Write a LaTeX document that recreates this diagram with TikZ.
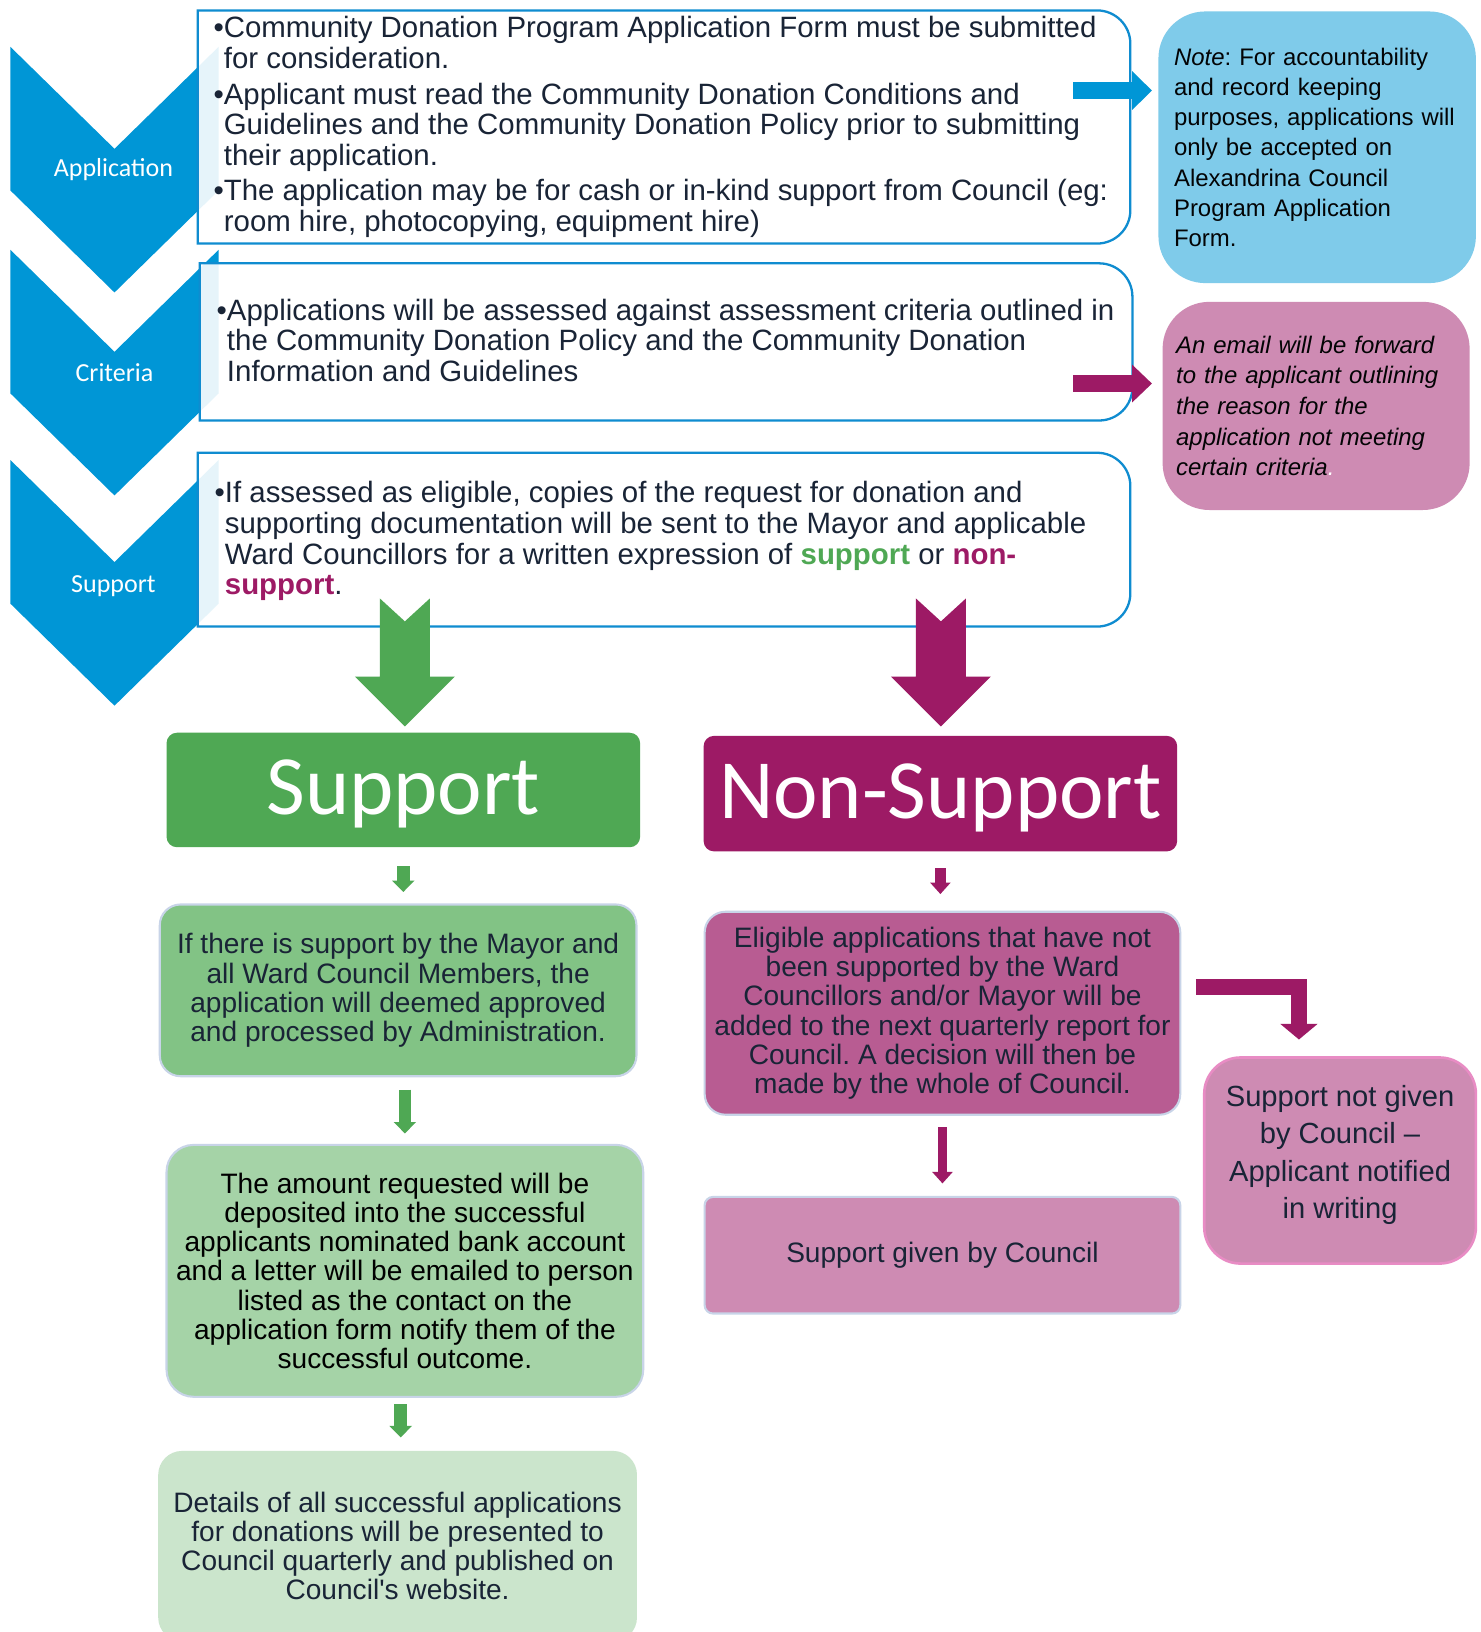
\documentclass[tikz,border=0pt]{standalone}
\usepackage{fontspec}
\setmainfont{Liberation Sans}
\newfontfamily\calfont{Carlito}
\usetikzlibrary{arrows.meta}
\definecolor{cblue}{RGB}{0,150,214}
\definecolor{cbord}{RGB}{15,140,208}
\definecolor{cnavy}{RGB}{25,36,54}
\definecolor{cgreen}{RGB}{79,168,84}
\definecolor{cmag}{RGB}{157,26,101}
\definecolor{cgone}{RGB}{130,195,133}
\definecolor{cgtwo}{RGB}{165,211,167}
\definecolor{cgthree}{RGB}{203,229,204}
\definecolor{cmone}{RGB}{184,92,146}
\definecolor{cpink}{RGB}{206,139,179}
\definecolor{cnote}{RGB}{127,203,234}
\definecolor{cedge}{RGB}{200,212,232}
\definecolor{cpinkedge}{RGB}{232,140,196}
\newcommand\tbox[4]{\filldraw[fill=white,fill opacity=0.9,draw=cbord,line width=2.2pt]
  (#1,#2) -- ({#3-32},#2) arc[start angle=-90,end angle=0,radius=32]
  -- (#3,{#4-32}) arc[start angle=0,end angle=90,radius=32] -- (#1,#4) -- cycle;}
\newcommand\chevshape[1]{\fill[cblue] (10,#1) -- (110,{#1+98}) -- (210,#1) -- (210,{#1+138})
  -- (110,{#1+236}) -- (10,{#1+138}) -- cycle;}
\newcommand\bl{\phantom{\textbullet}}
\newcommand\sq{{\addfontfeatures{Ligatures=TeXOff}'}}
\frenchspacing
\begin{document}
\begin{tikzpicture}[x=1pt,y={(0pt,-1pt)},
  txt/.style={inner sep=0pt,align=left,text=cnavy,font=\fontsize{28.25}{29.5}\selectfont},
  chevlabel/.style={text=white,font=\calfont\fontsize{25}{25}\selectfont,inner sep=0pt},
  hdr/.style={rounded corners=10pt,text=white,font=\calfont\fontsize{81}{81}\selectfont,inner sep=0pt,
    minimum width=455pt,text height=64pt,text depth=16pt},
  cbox/.style={draw=cedge,line width=2pt,rounded corners=20pt,inner sep=0pt,align=center,text=cnavy,
    font=\fontsize{27}{28}\selectfont,minimum width=458pt},
  garr/.style={draw=cgreen,line width=12pt,-{Triangle[width=21pt,length=11pt]}},
  marr/.style={draw=cmag,line width=11pt,-{Triangle[width=19pt,length=11pt]}},
]
\useasboundingbox (0,0) rectangle (1422,1568);
\fill[white] (0,0) rectangle (1422,1568);
% chevrons
\chevshape{45}
\chevshape{240}
\chevshape{442}
% text boxes
\tbox{190}{10}{1086}{234}
\tbox{192}{253}{1088}{404}
\tbox{190}{435}{1086}{602}
\node[chevlabel] (lapp) at (109,163) {Application};
\node[chevlabel] (lcrit) at (110,358) {Criteria};
\node[chevlabel] (lsup) at (109,563) {Support};
\node[txt,anchor=base west] (t1) at (205,222.5) {\textbullet Community Donation Program Application Form must be submitted\\
\bl for consideration.\\[5pt]
\textbullet Applicant must read the Community Donation Conditions and\\
\bl Guidelines and the Community Donation Policy prior to submitting\\
\bl their application.\\[4.5pt]
\textbullet The application may be for cash or in-kind support from Council (eg:\\
\bl room hire, photocopying, equipment hire)};
\node[txt,anchor=base west] (t2) at (208,366.5) {\textbullet Applications will be assessed against assessment criteria outlined in\\
\bl the Community Donation Policy and the Community Donation\\
\bl Information and Guidelines};
\node[txt,anchor=base west] (t3) at (206,571.5) {\textbullet If assessed as eligible, copies of the request for donation and\\
\bl supporting documentation will be sent to the Mayor and applicable\\
\bl Ward Councillors for a written expression of \textcolor{cgreen}{\bfseries support} or \textcolor{cmag}{\bfseries non-}\\
\bl \textcolor{cmag}{\bfseries support}.};
% right notes
\node[fill=cnote,rounded corners=45pt,minimum width=305pt,minimum height=261pt,text width=275pt,
  inner xsep=15pt,inner ysep=0pt,align=left,text=black!90!cnavy,font=\fontsize{23}{29}\selectfont]
  (note) at (1265.5,141.5) {\textit{Note}: For accountability\\ and record keeping\\ purposes, applications will\\
  only be accepted on\\ Alexandrina Council\\ Program Application\\ Form.};
\node[fill=cpink,rounded corners=45pt,minimum width=295pt,minimum height=200pt,text width=269pt,
  inner xsep=13pt,inner ysep=0pt,align=left,text=black!90!cnavy,font=\itshape\fontsize{23}{29.5}\selectfont]
  (mail) at (1264.5,390) {An email will be forward\\ to the applicant outlining\\ the reason for the\\
  application not meeting\\ certain criteria\textcolor{white}{.}};
\coordinate (ba) at (1031,87);
\coordinate (ma) at (1031,368.5);
\draw[draw=cblue,line width=16pt,-{Triangle[width=36pt,length=19pt]},shorten >=6pt] (ba) -- (ba -| note.west);
\draw[draw=cmag,line width=17pt,-{Triangle[width=35pt,length=19pt]},shorten >=10pt] (ma) -- (ma -| mail.west);
% big notched arrows
\fill[cgreen] (365,575) -- (389,597) -- (413,575) -- (413,650) -- (437,650) -- (389,698) -- (341,650) -- (365,650) -- cycle;
\fill[cmag] (880,575) -- (904,597) -- (928,575) -- (928,650) -- (952,650) -- (904,698) -- (856,650) -- (880,650) -- cycle;
% headers
\node[hdr,fill=cgreen,minimum height=110pt] (sup) at (387.5,759) {Support};
\node[hdr,fill=cmag,minimum height=111pt] (nsup) at (903.5,762.5) {Non-Support};
% green column
\node[cbox,fill=cgone,minimum height=165pt] (g1) at (382.5,951.5) {If there is support by the Mayor and\\
all Ward Council Members, the\\ application will deemed approved\\ and processed by Administration.};
\node[cbox,fill=cgtwo,minimum height=242pt,rounded corners=26pt,text=black] (g2) at (389,1221) {The amount requested will be\\
deposited into the successful\\ applicants nominated bank account\\ and a letter will be emailed to person\\
listed as the contact on the\\ application form notify them of the\\ successful outcome.};
\node[cbox,fill=cgthree,draw=cgthree,minimum height=181pt,rounded corners=22pt] (g3) at (382,1485.5) {Details of all successful applications\\
for donations will be presented to\\ Council quarterly and published on\\ Council\sq s website.};
% magenta column
\node[cbox,fill=cmone,minimum width=457pt,minimum height=195pt] (m1) at (905.5,973.5) {Eligible applications that have not\\
been supported by the Ward\\ Councillors and/or Mayor will be\\ added to the next quarterly report for\\
Council. A decision will then be\\ made by the whole of Council.};
\node[cbox,fill=cpink,minimum width=457pt,minimum height=112pt,rounded corners=8pt] (sg) at (905.5,1206) {Support given by Council};
\node[draw=cpinkedge,line width=2.5pt,fill=cpink,rounded corners=35pt,minimum width=261pt,minimum height=198pt] (nb) at (1287.5,1115) {};
\node[align=center,text=cnavy,font=\fontsize{28}{36}\selectfont,inner sep=0pt] (nbt) at (1287.5,1109.5) {Support not given\\ by Council --\\ Applicant notified\\ in writing};
% small arrows
\draw[garr,shorten <=18pt,shorten >=11pt] (sup.south) -- (sup.south |- g1.north);
\draw[garr,shorten <=12pt,shorten >=10pt] (g2.north |- g1.south) -- (g2.north);
\draw[garr,shorten <=6pt,shorten >=13pt] ([xshift=-4pt]g2.south) -- ([xshift=-4pt]g2.south |- g3.north);
\draw[marr,shorten <=16pt,shorten >=16pt] (nsup.south) -- (nsup.south |- m1.north);
\draw[marr,line width=9pt,shorten <=11pt,shorten >=12pt] (m1.south) -- (sg.north);
\draw[draw=cmag,line width=15pt,-{Triangle[width=35pt,length=15pt]},shorten >=16pt]
  ([xshift=14pt,yshift=25pt]m1.east) -| ([xshift=-39.5pt]nb.north);
\end{tikzpicture}
\end{document}
